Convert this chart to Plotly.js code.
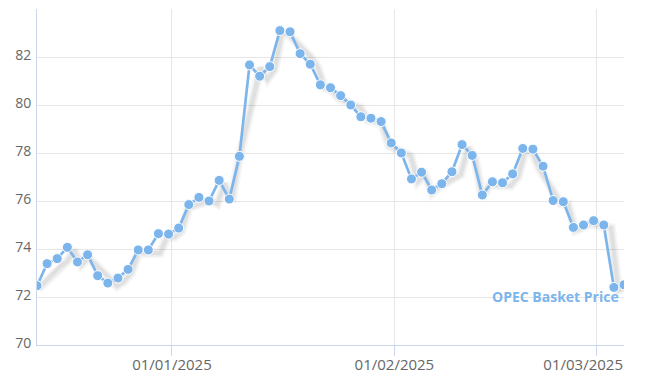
<!DOCTYPE html>
<html>
<head>
<meta charset="utf-8">
<script src="https://cdn.plot.ly/plotly-3.0.1.min.js"></script>
<style>
  html, body { margin: 0; padding: 0; background: #ffffff; }
  #chart { width: 650px; height: 389px; }
</style>
</head>
<body>
<div id="chart"></div>
<script>
// ---- data ----
const seriesName = 'OPEC Basket Price';
const dates = [
  '2024-12-13',
  '2024-12-16','2024-12-17','2024-12-18','2024-12-19','2024-12-20',
  '2024-12-23','2024-12-24','2024-12-25','2024-12-26','2024-12-27',
  '2024-12-30','2024-12-31','2025-01-01','2025-01-02','2025-01-03',
  '2025-01-06','2025-01-07','2025-01-08','2025-01-09','2025-01-10',
  '2025-01-13','2025-01-14','2025-01-15','2025-01-16','2025-01-17',
  '2025-01-20','2025-01-21','2025-01-22','2025-01-23','2025-01-24',
  '2025-01-27','2025-01-28','2025-01-29','2025-01-30','2025-01-31',
  '2025-02-03','2025-02-04','2025-02-05','2025-02-06','2025-02-07',
  '2025-02-10','2025-02-11','2025-02-12','2025-02-13','2025-02-14',
  '2025-02-17','2025-02-18','2025-02-19','2025-02-20','2025-02-21',
  '2025-02-24','2025-02-25','2025-02-26','2025-02-27','2025-02-28',
  '2025-03-03','2025-03-04','2025-03-05'
];
const prices = [
  72.47,
  73.39, 73.60, 74.07, 73.46, 73.76,
  72.89, 72.58, 72.79, 73.15, 73.96,
  73.96, 74.64, 74.62, 74.87, 75.85,
  76.15, 76.00, 76.86, 76.08, 77.86,
  81.67, 81.20, 81.60, 83.10, 83.05,
  82.14, 81.70, 80.84, 80.72, 80.39,
  80.00, 79.51, 79.45, 79.31, 78.42,
  78.00, 76.92, 77.20, 76.46, 76.72,
  77.22, 78.35, 77.90, 76.25, 76.80,
  76.76, 77.13, 78.19, 78.16, 77.45,
  76.02, 75.97, 74.90, 75.00, 75.18,
  75.00, 72.40, 72.51
];
const xTickVals = ['2025-01-01 08:00', '2025-01-31 07:30', '2025-02-28 07:30'];
const xTickText = ['01/01/2025', '01/02/2025', '01/03/2025'];
const yTickVals = [70, 72, 74, 76, 78, 80, 82, 84];
const yTickText = ['70', '72', '74', '76', '78', '80', '82', ''];

// ---- styling ----
const lineColor = '#7cb5ec';
const labelColor = '#666666';
const gridColor = '#e6e6e6';
const axisColor = '#ccd6eb';
const fontFam = '"Open Sans", Roboto, sans-serif';
const weekendBreaks = [{ bounds: ['sat', 'mon'] }];
const NB = '\u00a0';
// last x label is kept inside the plot's right edge (like the original)
const xTickTextShown = xTickText.map((t, i) =>
  i === xTickText.length - 1 ? t + NB.repeat(7) : t);

// shadow layers (drawn on a shifted overlay of the same scales)
const shadowLayers = [
  { w: 10, c: 'rgba(0,0,0,0.03)' },
  { w: 7,  c: 'rgba(0,0,0,0.04)' },
  { w: 4,  c: 'rgba(0,0,0,0.05)' }
];
const traces = shadowLayers.map(s => ({
  x: dates, y: prices, type: 'scatter', mode: 'lines',
  xaxis: 'x', yaxis: 'y',
  line: { color: s.c, width: s.w, shape: 'linear' },
  hoverinfo: 'skip', showlegend: false
}));
traces.push({
  x: dates, y: prices, type: 'scatter', mode: 'lines+markers',
  name: seriesName, xaxis: 'x2', yaxis: 'y2',
  line: { color: lineColor, width: 2.7 },
  marker: { color: lineColor, size: 10, line: { color: '#ffffff', width: 1 } },
  showlegend: false
});

const layout = {
  width: 650, height: 389,
  margin: { l: 37, r: 26, t: 9, b: 44, pad: 0 },
  paper_bgcolor: '#ffffff', plot_bgcolor: '#ffffff',
  showlegend: false,
  hovermode: false,
  font: { family: fontFam, color: labelColor, size: 14 },
  // shadow axes: same scale, shifted 2px right / 3px down
  xaxis: {
    type: 'date', rangebreaks: weekendBreaks,
    range: ['2024-12-12 19:16', '2025-03-04 19:16'],
    visible: false, showgrid: false, zeroline: false, fixedrange: true
  },
  yaxis: {
    range: [70.125, 84.125], visible: false, showgrid: false,
    zeroline: false, fixedrange: true
  },
  xaxis2: {
    type: 'date', rangebreaks: weekendBreaks,
    overlaying: 'x', anchor: 'y2', side: 'bottom',
    range: [dates[0], dates[dates.length - 1]],
    tickmode: 'array', tickvals: xTickVals, ticktext: xTickTextShown,
    showgrid: true, gridcolor: gridColor, gridwidth: 1,
    showline: true, linecolor: axisColor, linewidth: 1,
    ticks: 'outside', ticklen: 10, tickcolor: axisColor, tickwidth: 1,
    ticklabelstandoff: -4, ticklabeloverflow: 'allow',
    tickfont: { family: fontFam, size: 15, color: labelColor },
    zeroline: false, fixedrange: true
  },
  yaxis2: {
    overlaying: 'y', anchor: 'x2', side: 'left',
    range: [70, 84],
    tickmode: 'array', tickvals: yTickVals, ticktext: yTickText,
    showgrid: true, gridcolor: gridColor, gridwidth: 1,
    showline: true, linecolor: axisColor, linewidth: 1,
    ticks: '', ticklabelshift: -2, ticklabelstandoff: 2,
    tickfont: { family: fontFam, size: 14, color: labelColor },
    zeroline: false, fixedrange: true
  },
  annotations: [{
    xref: 'x2', yref: 'y2',
    x: dates[dates.length - 1], y: prices[prices.length - 1],
    text: '<b>' + seriesName + '</b>',
    showarrow: false, xanchor: 'right', yanchor: 'middle',
    xshift: -3, yshift: -12,
    font: { family: fontFam, size: 14, color: lineColor }
  }]
};

Plotly.newPlot('chart', traces, layout, { staticPlot: true, displayModeBar: false });
</script>
</body>
</html>
